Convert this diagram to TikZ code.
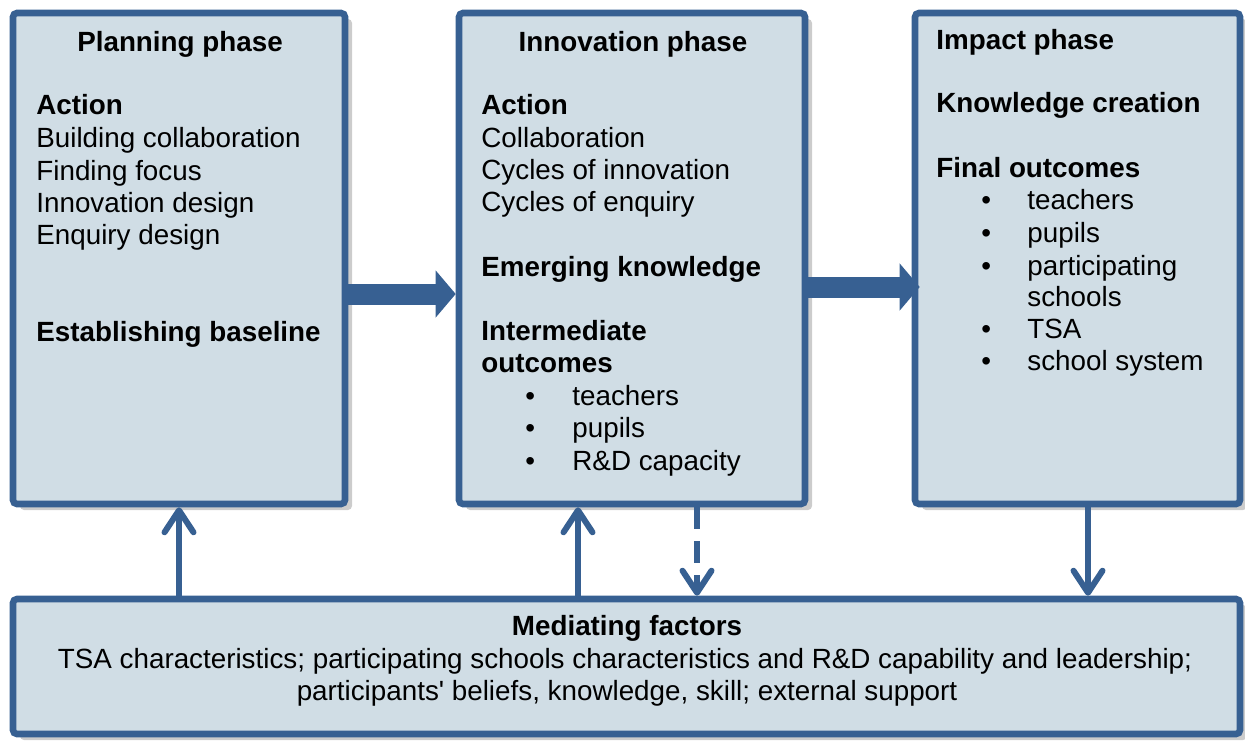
\documentclass[tikz,border=0pt]{standalone}
\usepackage{fontspec}
\setmainfont{Liberation Sans}
\usetikzlibrary{arrows.meta,shadows}
\definecolor{boxblue}{RGB}{55,96,146}
\definecolor{boxfill}{RGB}{208,221,229}

\begin{document}
\begin{tikzpicture}[x=0.5pt,y=-0.5pt,
    phasebox/.style={draw=boxblue, fill=boxfill, line width=3.3pt, rounded corners=2pt, inner sep=0pt,
        drop shadow={shadow xshift=3.5pt, shadow yshift=-3pt, opacity=0.4}},
    txt/.style={anchor=base west, inner sep=0pt, font=\fontsize{13.9}{16}\selectfont},
    hd/.style={txt, font=\fontsize{13.9}{16}\selectfont\bfseries},
    bigarrow/.style={draw=boxblue, line width=10.5pt, -{Triangle[length=10pt,width=23pt]}},
    linkarrow/.style={draw=boxblue, line width=3pt, -{Straight Barb[round,length=11pt,width=14.5pt]}},
    dashlink/.style={linkarrow, dash pattern=on 11pt off 6pt}]

    \useasboundingbox (0,0) rectangle (1245,740);

    % the four boxes
    \node[phasebox, minimum width=166pt, minimum height=245.5pt] (planning) at (179,258.5) {};
    \node[phasebox, minimum width=173pt, minimum height=245.5pt] (innovation) at (632,258.5) {};
    \node[phasebox, minimum width=162.5pt, minimum height=245.5pt] (impact) at (1077.5,258.5) {};
    \node[phasebox, minimum width=613.5pt, minimum height=67.5pt] (mediating) at (626.5,666.5) {};

    % planning phase
    \node[hd, anchor=base] (pl0) at (180,51) {Planning phase};
    \node[hd] (pl1) at (36,114) {Action};
    \node[txt] (pl2) at (36,147) {Building collaboration};
    \node[txt] (pl3) at (36,180) {Finding focus};
    \node[txt] (pl4) at (36,212) {Innovation design};
    \node[txt] (pl5) at (36,244) {Enquiry design};
    \node[hd] (pl6) at (36,341) {Establishing baseline};

    % innovation phase
    \node[hd, anchor=base] (in0) at (633,51) {Innovation phase};
    \node[hd] (in1) at (481,114) {Action};
    \node[txt] (in2) at (481,147) {Collaboration};
    \node[txt] (in3) at (481,179) {Cycles of innovation};
    \node[txt] (in4) at (481,211) {Cycles of enquiry};
    \node[hd] (in5) at (481,276) {Emerging knowledge};
    \node[hd] (in6) at (481,340) {Intermediate};
    \node[hd] (in7) at (481,372) {outcomes};
    \node[txt] (inb1) at (525,405) {•}; \node[txt] (in8) at (572,405) {teachers};
    \node[txt] (inb2) at (525,437) {•}; \node[txt] (in9) at (572,437) {pupils};
    \node[txt] (inb3) at (525,470) {•}; \node[txt] (in10) at (572,470) {R\&D capacity};

    % impact phase
    \node[hd] (im0) at (936,49) {Impact phase};
    \node[hd] (im1) at (936,112) {Knowledge creation};
    \node[hd] (im2) at (936,177) {Final outcomes};
    \node[txt] (imb1) at (981,209) {•}; \node[txt] (im3) at (1027,209) {teachers};
    \node[txt] (imb2) at (981,242) {•}; \node[txt] (im4) at (1027,242) {pupils};
    \node[txt] (imb3) at (981,275) {•}; \node[txt] (im5) at (1027,275) {participating};
    \node[txt] (im6) at (1027,306) {schools};
    \node[txt] (imb4) at (981,338) {•}; \node[txt] (im7) at (1027,338) {TSA};
    \node[txt] (imb5) at (981,370) {•}; \node[txt] (im8) at (1027,370) {school system};

    % mediating factors
    \node[hd, anchor=base] (md0) at (627,635) {Mediating factors};
    \node[txt, anchor=base] (md1) at (625,668) {TSA characteristics; participating schools characteristics and R\&D capability and leadership;};
    \node[txt, anchor=base] (md2) at (627,700) {participants\textquotesingle\ beliefs, knowledge, skill; external support};

    % arrows
    \coordinate (a1) at (0,294);
    \coordinate (a2) at (0,287);
    \coordinate (u2) at (578,0);
    \coordinate (d1) at (697,0);
    \coordinate (d2) at (1088,0);

    \draw[bigarrow] (planning.east |- a1) -- (innovation.west |- a1);
    \draw[bigarrow, shorten >=-4pt] (innovation.east |- a2) -- (impact.west |- a2);

    \draw[linkarrow] (mediating.north -| planning.south) -- (planning.south);
    \draw[linkarrow] (mediating.north -| u2) -- (innovation.south -| u2);
    \draw[dashlink] (innovation.south -| d1) -- (mediating.north -| d1);
    \draw[linkarrow] (impact.south -| d2) -- (mediating.north -| d2);

\end{tikzpicture}
\end{document}
